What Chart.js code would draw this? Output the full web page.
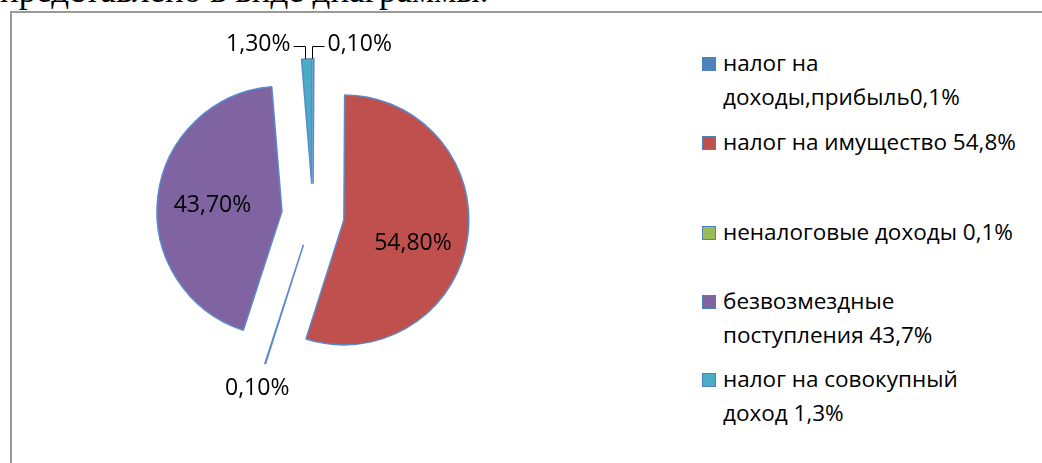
<!DOCTYPE html>
<html lang="ru">
<head>
<meta charset="UTF-8">
<title>Структура доходов</title>
<script src="https://cdn.jsdelivr.net/npm/chart.js"></script>
<style>
    html, body { margin: 0; padding: 0; background: #fff; }
    body { width: 1042px; height: 463px; position: relative; overflow: hidden; font-family: 'Open Sans', sans-serif; }
    .caption { position: absolute; left: 0; top: -27px; font-family: 'Liberation Serif', serif; font-size: 35px; line-height: 36px; white-space: nowrap; color: #000; }
    .frame { position: absolute; left: 10px; top: 11px; width: 1100px; height: 500px; border-left: 2px solid #9a9a9a; border-top: 2px solid #9a9a9a; }
    .chart-box { position: absolute; left: 0; top: 0; width: 626px; height: 430px; }
    .legend { position: absolute; left: 702px; top: 0; }
    .legend-item { position: absolute; left: 0; width: 330px; display: flex; align-items: flex-start; }
    .legend-item .key { width: 12px; height: 12px; margin-top: 11px; margin-right: 7px; flex: none; border: 1px solid #4F81BD; }
    .legend-item .txt { font-size: 22.5px; line-height: 34px; color: #000; width: 298px; }
</style>
</head>
<body>
<div class="caption">представлено в виде диаграммы.</div>
<div class="frame"></div>
<div class="chart-box"><canvas id="pie"></canvas></div>
<div class="legend" id="legend"></div>
<script>
    // data
    var categories = [
        'налог на доходы,прибыль0,1%',
        'налог на имущество 54,8%',
        'неналоговые доходы 0,1%',
        'безвозмездные поступления 43,7%',
        'налог на совокупный доход 1,3%'
    ];
    var shares = [0.1, 54.8, 0.1, 43.7, 1.3];
    var shareLabels = ['0,10%', '54,80%', '0,10%', '43,70%', '1,30%'];

    var colors = ['#4F81BD', '#C0504D', '#9BBB59', '#8064A2', '#4BACC6'];
    var explodePct = 0.25; // every slice pulled out by 25% of radius
    var legendTops = [46, 125, 215, 284, 362];

    // legend in html, wraps like the original
    var legend = document.getElementById('legend');
    categories.forEach(function(name, i) {
        var item = document.createElement('div');
        item.className = 'legend-item';
        item.style.top = legendTops[i] + 'px';
        var key = document.createElement('div');
        key.className = 'key';
        key.style.background = colors[i];
        var txt = document.createElement('div');
        txt.className = 'txt';
        txt.textContent = name;
        item.appendChild(key);
        item.appendChild(txt);
        legend.appendChild(item);
    });

    function sliceShift(arc) {
        var p = arc.getProps(['startAngle', 'endAngle', 'outerRadius']);
        var mid = (p.startAngle + p.endAngle) / 2;
        var d = p.outerRadius * explodePct;
        return { mid: mid, dx: Math.cos(mid) * d, dy: Math.sin(mid) * d };
    }

    // draw the arcs ourselves so every slice moves out by the same distance
    var explodePlugin = {
        id: 'explode',
        beforeDatasetDraw: function(chart, args) {
            var ctx = chart.ctx;
            args.meta.data.forEach(function(arc) {
                var s = sliceShift(arc);
                ctx.save();
                ctx.translate(s.dx, s.dy);
                arc.draw(ctx, chart.chartArea);
                ctx.restore();
            });
            return false;
        }
    };

    var labelPlugin = {
        id: 'sliceLabels',
        afterDatasetsDraw: function(chart) {
            var ctx = chart.ctx;
            var meta = chart.getDatasetMeta(0);
            ctx.save();
            ctx.font = '23px "Open Sans", sans-serif';
            ctx.fillStyle = '#000';
            ctx.strokeStyle = '#000';
            ctx.lineWidth = 1;
            meta.data.forEach(function(arc, i) {
                var p = arc.getProps(['x', 'y', 'outerRadius']);
                var s = sliceShift(arc);
                var mid = s.mid;
                var cx = p.x + s.dx;
                var cy = p.y + s.dy;
                var R = p.outerRadius;
                var text = shareLabels[i];
                if (shares[i] > 5) {
                    // inside label, pulled a bit towards the lower side like excel does
                    ctx.textAlign = 'center';
                    ctx.textBaseline = 'middle';
                    var lift = Math.cos(mid) > 0 ? 9 : 0;
                    ctx.fillText(text, cx + Math.cos(mid) * R * 0.56, cy + Math.sin(mid) * R * 0.6 + 3 + lift);
                    return;
                }
                var ax = cx + Math.cos(mid) * R;
                var ay = cy + Math.sin(mid) * R;
                if (ay < p.y - R * 0.8) {
                    // small slice at the top: bracket leader line
                    var left = Math.cos(mid) < 0;
                    var dir = left ? -1 : 1;
                    var ex = Math.round(ax) + 0.5 - (left ? 2 : 1);
                    var ly = Math.round(ay) - 12.5;
                    ctx.beginPath();
                    ctx.moveTo(ex, ay);
                    ctx.lineTo(ex, ly);
                    ctx.lineTo(ex + dir * 12, ly);
                    ctx.stroke();
                    ctx.textAlign = left ? 'right' : 'left';
                    ctx.textBaseline = 'middle';
                    ctx.fillText(text, ex + dir * 15, ly - 2);
                } else {
                    ctx.textAlign = 'center';
                    ctx.textBaseline = 'middle';
                    ctx.fillText(text, cx + Math.cos(mid) * (R + 26), cy + Math.sin(mid) * (R + 26));
                }
            });
            ctx.restore();
        }
    };

    new Chart(document.getElementById('pie'), {
        type: 'pie',
        data: {
            labels: categories,
            datasets: [{
                data: shares,
                backgroundColor: colors,
                borderColor: '#5A8ACB',
                borderWidth: 1.5
            }]
        },
        options: {
            responsive: true,
            maintainAspectRatio: false,
            animation: false,
            events: [],
            radius: 125,
            plugins: {
                legend: { display: false },
                tooltip: { enabled: false }
            }
        },
        plugins: [explodePlugin, labelPlugin]
    });
</script>
</body>
</html>
